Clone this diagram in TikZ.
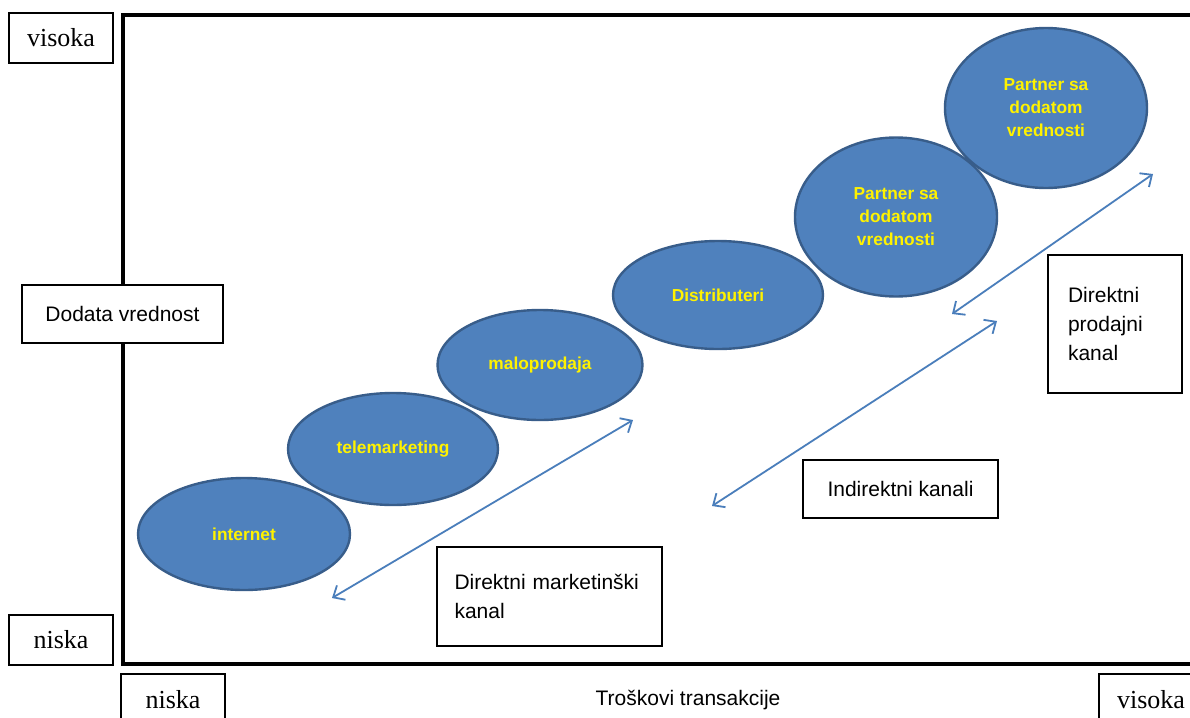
\documentclass[tikz,border=0pt]{standalone}
\usepackage{fontspec}
\setmainfont{Liberation Serif}
\setsansfont{Liberation Sans}
\usetikzlibrary{shapes.geometric,arrows.meta}
\definecolor{ellfill}{HTML}{4F81BD}
\definecolor{elldraw}{HTML}{385D8A}
\definecolor{arrblue}{HTML}{4A7EBB}
\begin{document}
\begin{tikzpicture}[x=0.75pt,y=-0.75pt,
  chan/.style={ellipse, draw=elldraw, fill=ellfill, line width=1.8pt, inner sep=0pt,
    font=\sffamily\bfseries\fontsize{13}{17.25}\selectfont, text=yellow, align=center},
  lbl/.style={draw, line width=1.5pt, fill=white, inner sep=0pt,
    font=\sffamily\fontsize{15.75}{21.75}\selectfont},
  corner/.style={draw, line width=1.5pt, fill=white, inner sep=0pt,
    minimum width=78pt, minimum height=37.5pt, font=\fontsize{19.5}{22}\selectfont},
  dbl/.style={{Straight Barb[length=7pt,width=12.5pt]}-{Straight Barb[length=7pt,width=12.5pt]},
    draw=arrblue, line width=1.35pt}
]
\useasboundingbox (0,0) rectangle (1190,718);
\fill[white] (0,0) rectangle (1190,718);
% main frame
\draw[line width=3pt] (1200,15) -- (123,15) -- (123,664) -- (1200,664);
% corner labels
\node[corner] (vTL) at (61,37.5) {visoka};
\node[corner] (nL) at (61,640) {niska};
\node[corner, minimum height=39pt] (nB) at (173,700) {niska};
\node[corner, minimum height=39pt] (vB) at (1151,700) {visoka};
\node[font=\sffamily\fontsize{15.75}{21.75}\selectfont, inner sep=0pt] (xlab) at (688,700) {Troškovi transakcije};
\node[lbl, minimum width=150.75pt, minimum height=43.5pt] (ylab) at (122.5,314) {Dodata vrednost};
% ellipses
\node[chan, minimum width=159pt, minimum height=84pt] (e1) at (244,534) {internet};
\node[chan, minimum width=157.5pt, minimum height=84pt] (e2) at (393,449) {telemarketing};
\node[chan, minimum width=153.75pt, minimum height=82.5pt] (e3) at (540,365) {maloprodaja};
\node[chan, minimum width=157.5pt, minimum height=81pt] (e4) at (718,295) {Distributeri};
\node[chan, minimum width=151.5pt, minimum height=119.25pt] (e5) at (896,217) {Partner sa\\dodatom\\vrednosti};
\node[chan, minimum width=151.5pt, minimum height=120pt] (e6) at (1046,108) {Partner sa\\dodatom\\vrednosti};
% arrows
\coordinate (a1s) at (332,598);
\coordinate (a1e) at (633,420);
\coordinate (a2s) at (712,506);
\coordinate (a2e) at (997,321);
\coordinate (a3s) at (952,314);
\coordinate (a3e) at (1153,174);
\draw[dbl] (a1s) -- (a1e);
\draw[dbl] (a2s) -- (a2e);
\draw[dbl] (a3s) -- (a3e);
% channel labels
\node[lbl, text width=142.5pt, inner xsep=13.125pt, minimum height=74.25pt, align=left] (dmk) at (549.5,596.5) {Direktni marketinški\\kanal};
\node[lbl, minimum width=146.25pt, minimum height=43.5pt] (ik) at (900.5,489) {Indirektni kanali};
\node[lbl, text width=70.5pt, inner xsep=15pt, minimum height=103.5pt, align=left] (dpk) at (1115,324) {Direktni\\prodajni\\kanal};
\end{tikzpicture}
\end{document}
